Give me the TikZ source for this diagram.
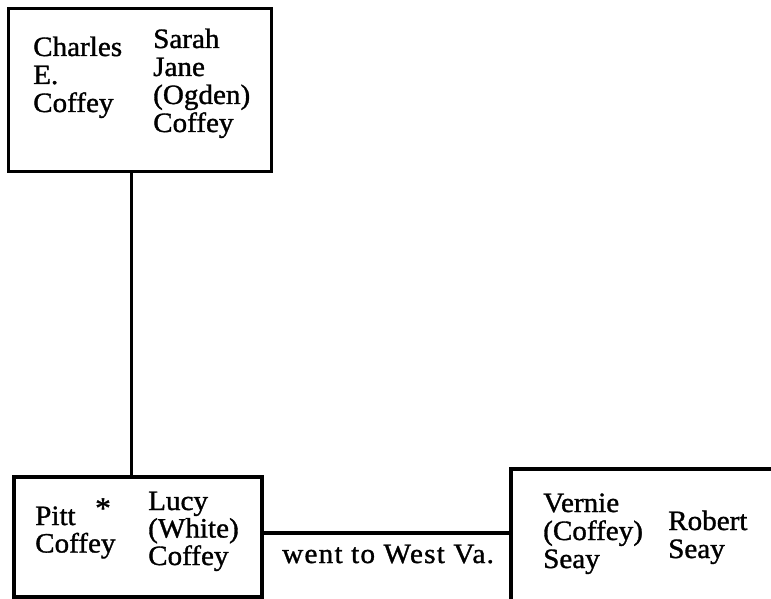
\documentclass[tikz,border=0pt]{standalone}
\usepackage{fontspec}
\setmainfont{Liberation Serif}[FakeStretch=1.04,FakeBold=1.2]
\newcommand{\stk}[2]{\vtop{\baselineskip=#1pt\lineskiplimit=-20pt\halign{##\hfil\cr #2\crcr}}}
\tikzset{
  famtext/.style={anchor=base west, inner sep=0pt, font=\fontsize{28}{28}\selectfont},
  famboxA/.style={draw, rectangle, inner sep=0pt, line width=3pt},
  famboxB/.style={draw, rectangle, inner sep=0pt, line width=4.5pt},
  famboxC/.style={draw, rectangle, inner sep=0pt, line width=3.5pt},
  link/.style={line width=3pt}
}
\begin{document}
\begin{tikzpicture}[x=1pt,y=-1pt]
\clip (0,0) rectangle (771,599);
\fill[white] (0,0) rectangle (771,599);
% boxes
\node[famboxA, minimum width=263pt, minimum height=163pt] (box1) at (140,90) {};
\node[famboxB, minimum width=248pt, minimum height=120pt] (box2) at (138,537) {};
\node[famboxC, minimum width=298pt, minimum height=152pt] (box3) at (660,545) {};
% texts
\node[famtext] (charles) at (33,56) {\stk{28}{Charles\cr E.\cr Coffey}};
\node[famtext] (sarah) at (153,48) {\stk{28}{Sarah\cr Jane\cr (Ogden)\cr Coffey}};
\node[famtext] (pitt) at (35,525) {\stk{27.5}{Pitt\cr Coffey}};
\node[famtext, anchor=base, font=\fontsize{30}{30}\selectfont] (star) at (103,518) {*};
\node[famtext] (lucy) at (148,510) {\stk{27.5}{Lucy\cr (White)\cr Coffey}};
\node[famtext] (vernie) at (543,512) {\stk{28}{Vernie\cr (Coffey)\cr Seay}};
\node[famtext] (robert) at (668,530) {\stk{28}{Robert\cr Seay}};
\node[famtext] (went) at (282,563) {\addfontfeature{LetterSpace=4.5}went to West Va.};
% connectors
\draw[link] ([xshift=-9pt]box1.south) -- ([xshift=-9pt]box1.south |- box2.north);
\draw[link, line width=3.5pt] ([yshift=4pt]box2.east) -- ([yshift=4pt]box2.east -| box3.west);
\end{tikzpicture}
\end{document}
